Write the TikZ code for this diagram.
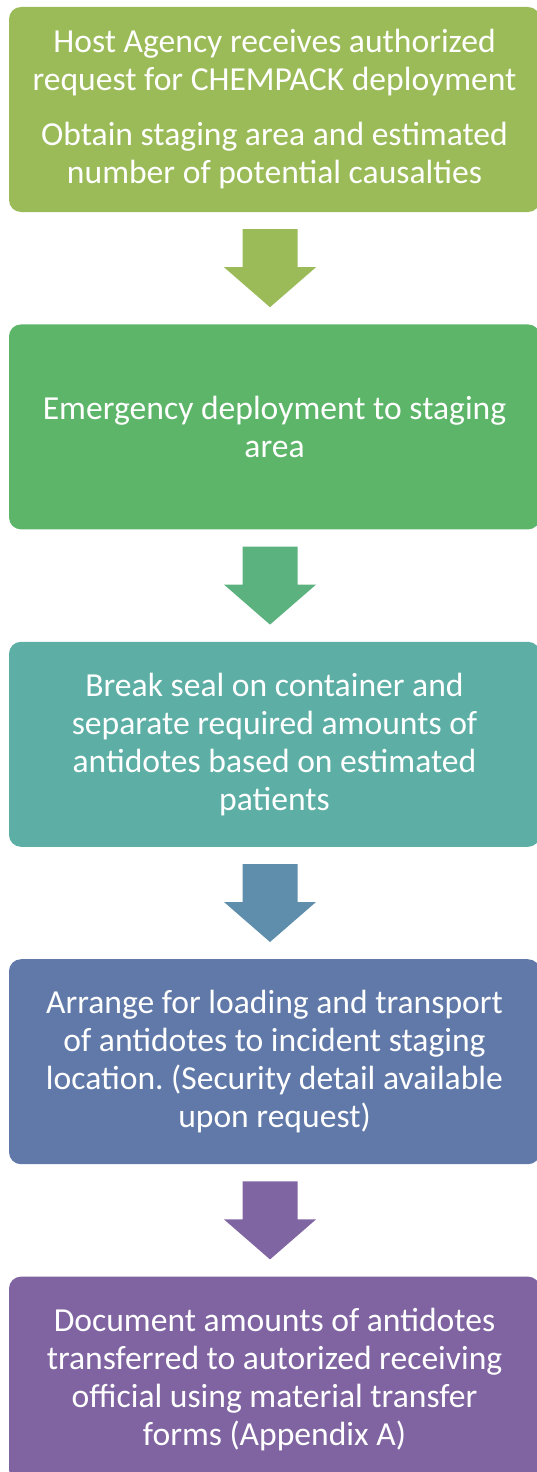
\documentclass[tikz,border=0pt]{standalone}
\usepackage{fontspec}
\setmainfont{Carlito}
\frenchspacing
\usetikzlibrary{positioning,calc}

\definecolor{stepone}{HTML}{9BBB59}
\definecolor{steptwo}{HTML}{5DB569}
\definecolor{stepthree}{HTML}{5DAFA5}
\definecolor{stepfour}{HTML}{6079A8}
\definecolor{stepfive}{HTML}{8064A2}
\definecolor{arrowtwo}{HTML}{5BB27F}
\definecolor{arrowthree}{HTML}{5F8EAC}
\definecolor{arrowfour}{HTML}{7F65A1}

\tikzset{
  stepbox/.style={rectangle, rounded corners=12pt, minimum width=531pt,
    minimum height=205pt, inner sep=0pt, text=white, align=center,
    font=\fontsize{33.6}{38}\selectfont},
}

% block arrow from one box down to the next
\newcommand{\flowarrow}[3]{%
  \path ($(#1.south)+(-4.5,-17)$) coordinate (#1top)
        ($(#2.north)+(-4.5,17)$) coordinate (#1tip);
  \fill[#3] ($(#1top)+(-27.5,0)$) -- ($(#1top)+(27.5,0)$)
    -- ($(#1tip)+(27.5,40)$) -- ($(#1tip)+(46,40)$) -- (#1tip)
    -- ($(#1tip)+(-46,40)$) -- ($(#1tip)+(-27.5,40)$) -- cycle;
}

\begin{document}
\begin{tikzpicture}[x=1pt, y=1pt, node distance=112pt]
    \useasboundingbox (0,0) rectangle (537,-1472);
    \clip (0,0) rectangle (537,-1472);

    % Steps
    \node[stepbox, fill=stepone] (receive) at (274.5,-109.5)
      {Host Agency receives authorized\\request for CHEMPACK deployment\\[17pt]
       Obtain staging area and estimated\\number of potential causalties};
    \node[stepbox, fill=steptwo, below=of receive] (deploy)
      {Emergency deployment to staging\\area};
    \node[stepbox, fill=stepthree, below=of deploy] (seal)
      {Break seal on container and\\separate required amounts of\\antidotes based on estimated\\patients};
    \node[stepbox, fill=stepfour, below=of seal] (transport)
      {Arrange for loading and transport\\of antidotes to incident staging\\location. (Security detail available\\upon request)};
    \node[stepbox, fill=stepfive, below=of transport] (document)
      {Document amounts of antidotes\\transferred to autorized receiving\\official using material transfer\\forms (Appendix A)};

    % Arrows
    \flowarrow{receive}{deploy}{stepone}
    \flowarrow{deploy}{seal}{arrowtwo}
    \flowarrow{seal}{transport}{arrowthree}
    \flowarrow{transport}{document}{arrowfour}
\end{tikzpicture}
\end{document}
